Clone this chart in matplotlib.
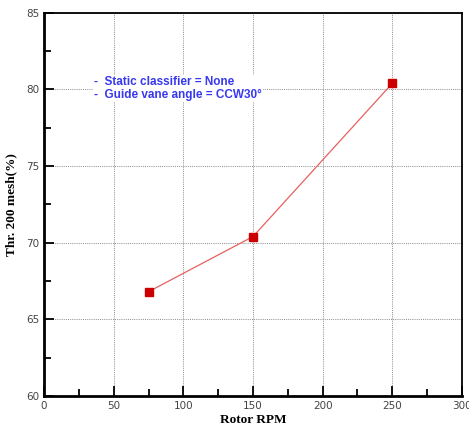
import numpy as np
import matplotlib.pyplot as plt
from matplotlib.ticker import MultipleLocator

# data
rpm = [75, 150, 250]
thr200 = [66.8, 70.4, 80.4]
notes = ["-  Static classifier = None", "-  Guide vane angle = CCW30\u00b0"]

fig = plt.figure(figsize=(4.69, 4.28), dpi=100)
ax = fig.add_axes([0.094, 0.075, 0.891, 0.895])

ax.plot(rpm, thr200, color="#e86060", lw=0.9, zorder=3)
ax.plot(rpm, thr200, "s", color="#cc0000", ms=6, mec="#cc0000", zorder=4)

ax.set_xlim(0, 300)
ax.set_ylim(60, 85)
ax.xaxis.set_major_locator(MultipleLocator(50))
ax.xaxis.set_minor_locator(MultipleLocator(25))
ax.yaxis.set_major_locator(MultipleLocator(5))
ax.yaxis.set_minor_locator(MultipleLocator(2.5))
ax.tick_params(which="both", direction="in", top=False, right=False,
               labelsize=7.5, labelcolor="#444444", width=1.3)
ax.tick_params(which="major", length=7)
ax.tick_params(which="minor", length=5)
ax.grid(which="major", color="#8a8a8a", linestyle=(0, (1, 1.2)), lw=0.7)

for s in ax.spines.values():
    s.set_linewidth(1.3)
ax.spines["left"].set_linewidth(2)
ax.spines["bottom"].set_linewidth(2)

serif = ["Liberation Serif", "DejaVu Serif"]
ax.set_xlabel("Rotor RPM", family=serif, fontweight="bold", fontsize=9.5, labelpad=2)
ax.set_ylabel("Thr. 200 mesh(%)", family=serif, fontweight="bold", fontsize=9.5, labelpad=6)

ax.text(36, 80.05, "\n".join(notes), color="#3838f0", fontsize=8.5, fontweight="bold",
        family=["Liberation Sans", "DejaVu Sans"], va="center", linespacing=1.05,
        bbox=dict(facecolor="white", edgecolor="none", pad=1), zorder=5)

plt.savefig("out.png", dpi=100)
